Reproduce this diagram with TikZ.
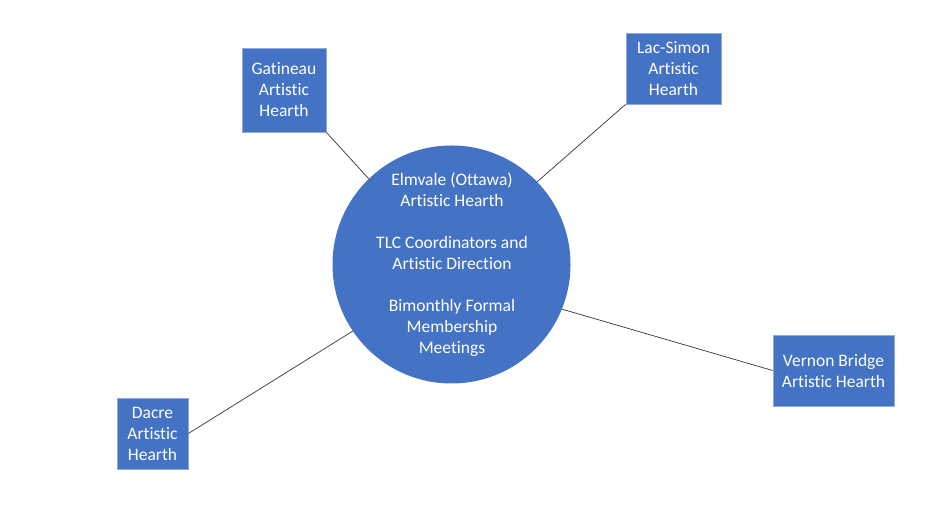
\documentclass[tikz,border=0pt]{standalone}
\usepackage{fontspec}
\setmainfont{Carlito}[Ligatures=NoCommon]
\definecolor{hearthblue}{HTML}{4472C4}
\definecolor{hearthedge}{HTML}{8EA9DB}
\begin{document}
\begin{tikzpicture}[x=1pt,y=1pt,font=\fontsize{17.5}{21}\selectfont,
        hearth/.style={draw=hearthedge,line width=0.8pt,fill=hearthblue,text=white,align=center,inner sep=0pt},
        spoke/.style={draw=black!80,line width=0.7pt}]
        \useasboundingbox (0,0) rectangle (940,529);
        %% centre
        \node[circle,fill=hearthblue,minimum size=238pt,inner sep=0pt] (elmvale) at (451.5,264.5) {};
        \node[text=white,align=center,inner sep=0pt] (elmvaletext) at (452,264)
            {Elmvale (Ottawa)\\Artistic Hearth\\[21pt]TLC Coordinators and\\Artistic Direction\\[21pt]Bimonthly Formal\\Membership\\Meetings};
        %% hearths
        \node[hearth,minimum width=84pt,minimum height=84pt] (gatineau) at (284,439) {Gatineau\\Artistic\\Hearth};
        \node[hearth,minimum width=95pt,minimum height=71pt] (lacsimon) at (673.5,460.5) {Lac-Simon\\Artistic\\Hearth};
        \node[hearth,minimum width=121pt,minimum height=71pt] (vernon) at (833.5,158.5) {Vernon Bridge\\Artistic Hearth};
        \node[hearth,minimum width=71pt,minimum height=71pt] (dacre) at (152.5,95.5) {Dacre\\Artistic\\Hearth};
        %% spokes
        \draw[spoke] (gatineau.south east) -- (elmvale.134.7);
        \draw[spoke] (lacsimon.south west) -- (elmvale.44.7);
        \draw[spoke] (vernon.west) -- (elmvale.-22);
        \draw[spoke] (dacre.east) -- (elmvale.214);
    \end{tikzpicture}
\end{document}
